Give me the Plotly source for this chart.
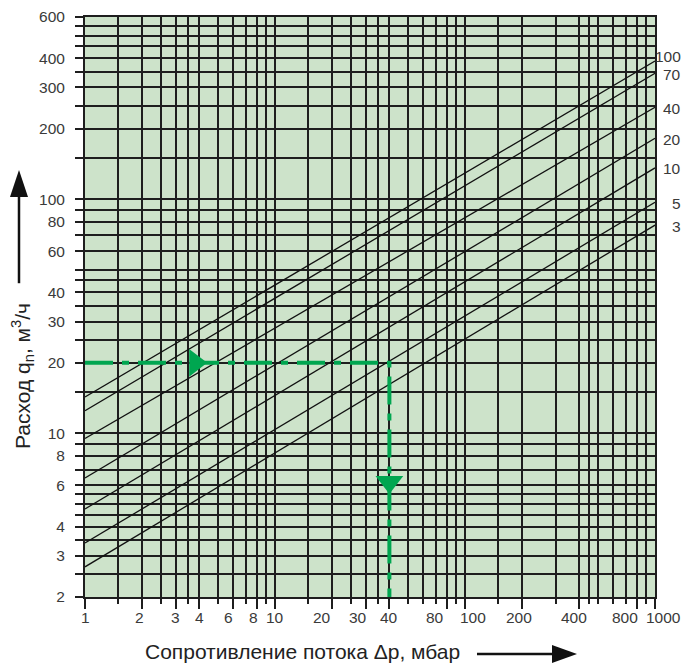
import math
import plotly.graph_objects as go

# ---- data ----
series_labels = ["100", "70", "40", "20", "10", "5", "3"]
dp_ends = [1, 1000]                                   # Δp, mbar (line end points)
q_at_dp1 = [14.3, 12.5, 9.5, 6.45, 4.75, 3.4, 2.69]   # m³/h at Δp = 1 mbar
q_at_dp1000 = [389, 345, 247, 182, 136, 97, 77.5]     # m³/h at Δp = 1000 mbar

# worked example (green dashed path)
example_dp = [1, 40, 40]
example_q = [20, 20, 2]
example_arrow_dp = [3.8, 40]
example_arrow_q = [20, 6.2]

x_major = [1, 2, 3, 4, 6, 8, 10, 20, 30, 40, 80, 100, 200, 400, 800, 1000]
x_minor = [1.5, 2.5, 3.5, 5, 7, 9, 15, 25, 35, 50, 60, 70, 90, 150, 300, 450, 500, 600, 700, 900]
y_major = [2, 3, 4, 6, 8, 10, 20, 30, 40, 60, 80, 100, 200, 300, 400, 600]
y_minor = [2.5, 3.5, 4.5, 5, 5.5, 7, 9, 15, 25, 35, 45, 50, 70, 90, 150, 250, 350, 450, 500, 550]

# ---- styling ----
GRID = "#1e1e1e"
GREEN = "#00a650"
TXT = "#3a3a3a"
FONT = "Liberation Sans, Arial, sans-serif"
TICK_SIZE = 15.5
TITLE_SIZE = 21
# horizontal nudges (px) of some x tick labels, as in the printed chart
x_label_nudge = {2: -3, 6: -4, 8: -3, 20: -10, 30: -8, 80: -12, 100: 8, 200: -3,
                 400: -5, 800: -12, 1000: 8}

fig = go.Figure()

for lab, q1, q2 in zip(series_labels, q_at_dp1, q_at_dp1000):
    fig.add_trace(go.Scatter(x=dp_ends, y=[q1, q2], mode="lines",
                             line=dict(color="#111111", width=1.3),
                             name=lab, showlegend=False, hoverinfo="skip"))

fig.add_trace(go.Scatter(x=example_dp, y=example_q, mode="lines",
                         line=dict(color=GREEN, width=4, dash="28px,9px,7px,9px"),
                         showlegend=False, hoverinfo="skip"))
fig.add_trace(go.Scatter(x=example_arrow_dp, y=example_arrow_q, mode="markers",
                         marker=dict(symbol=["triangle-right", "triangle-down"],
                                     size=24, color=GREEN, line=dict(width=0)),
                         showlegend=False, hoverinfo="skip"))

# x tick labels
for v in x_major:
    fig.add_annotation(x=math.log10(v), xref="x", y=0, yref="paper",
                       text=str(v), showarrow=False, xanchor="center", yanchor="top",
                       xshift=x_label_nudge.get(v, 0), yshift=-10,
                       font=dict(family=FONT, size=TICK_SIZE, color=TXT))

# labels of the curves at the right side
for lab, q2 in zip(series_labels, q_at_dp1000):
    fig.add_annotation(x=1, xref="paper", y=math.log10(q2), yref="y",
                       text=lab, showarrow=False, xanchor="right", borderpad=0,
                       xshift=27, yshift=5 if lab == "100" else -1,
                       font=dict(family=FONT, size=TICK_SIZE, color=TXT))

# axis titles
fig.add_annotation(x=0.3816, y=-0.0948, xref="paper", yref="paper",
                   text="Сопротивление потока \u0394p, мбар", showarrow=False,
                   xanchor="center", yanchor="middle", borderpad=0,
                   font=dict(family=FONT, size=TITLE_SIZE, color="#222222"))
fig.add_annotation(x=-0.1105, y=0.381, xref="paper", yref="paper",
                   text="Расход q<sub>n</sub>, м<sup>3</sup>/ч", showarrow=False,
                   textangle=-90, xanchor="center", yanchor="middle",
                   font=dict(family=FONT, size=TITLE_SIZE, color="#222222"))

# title arrows
fig.add_shape(type="line", xref="paper", yref="paper",
              x0=-0.1158, x1=-0.1158, y0=0.541, y1=0.693,
              line=dict(color="#111111", width=2.5))
fig.add_shape(type="path", xref="paper", yref="paper",
              path="M -0.1316,0.6897 L -0.1,0.6897 L -0.1158,0.7362 Z",
              fillcolor="#111111", line=dict(width=0))
fig.add_shape(type="line", xref="paper", yref="paper",
              x0=0.6877, x1=0.822, y0=-0.0983, y1=-0.0983,
              line=dict(color="#111111", width=2.5))
fig.add_shape(type="path", xref="paper", yref="paper",
              path="M 0.8193,-0.0828 L 0.8193,-0.1138 L 0.8632,-0.0983 Z",
              fillcolor="#111111", line=dict(width=0))

fig.update_xaxes(type="log", range=[0, 3], automargin=False,
                 tickmode="array", tickvals=x_major, showticklabels=False,
                 ticks="outside", ticklen=10, tickwidth=2, tickcolor=GRID,
                 showgrid=True, gridcolor=GRID, gridwidth=2,
                 minor=dict(tickmode="array", tickvals=x_minor, ticks="outside",
                            ticklen=5, tickwidth=2, tickcolor=GRID,
                            showgrid=True, gridcolor=GRID, gridwidth=2),
                 showline=True, linecolor=GRID, linewidth=2, mirror=True,
                 zeroline=False)
fig.update_yaxes(type="log", range=[math.log10(2), math.log10(600)], automargin=False,
                 tickmode="array", tickvals=y_major, ticktext=[str(v) for v in y_major],
                 ticks="outside", ticklen=8, tickwidth=2, tickcolor=GRID,
                 showgrid=True, gridcolor=GRID, gridwidth=2,
                 minor=dict(tickmode="array", tickvals=y_minor, ticks="outside",
                            ticklen=8, tickwidth=2, tickcolor=GRID,
                            showgrid=True, gridcolor=GRID, gridwidth=2),
                 showline=True, linecolor=GRID, linewidth=2, mirror=True,
                 zeroline=False, ticklabelstandoff=7,
                 tickfont=dict(family=FONT, size=TICK_SIZE, color=TXT))

fig.update_layout(width=683, height=664,
                  margin=dict(l=85, r=28, t=17, b=67, autoexpand=False),
                  plot_bgcolor="#cde3ca", paper_bgcolor="white",
                  showlegend=False)

# remove the browser's default 8px page margin so the figure fills the window exactly
fig.write_html("out.html",
               config={"displayModeBar": False},
               post_script="document.body.style.margin='0';"
                           "document.body.style.overflow='hidden';")
